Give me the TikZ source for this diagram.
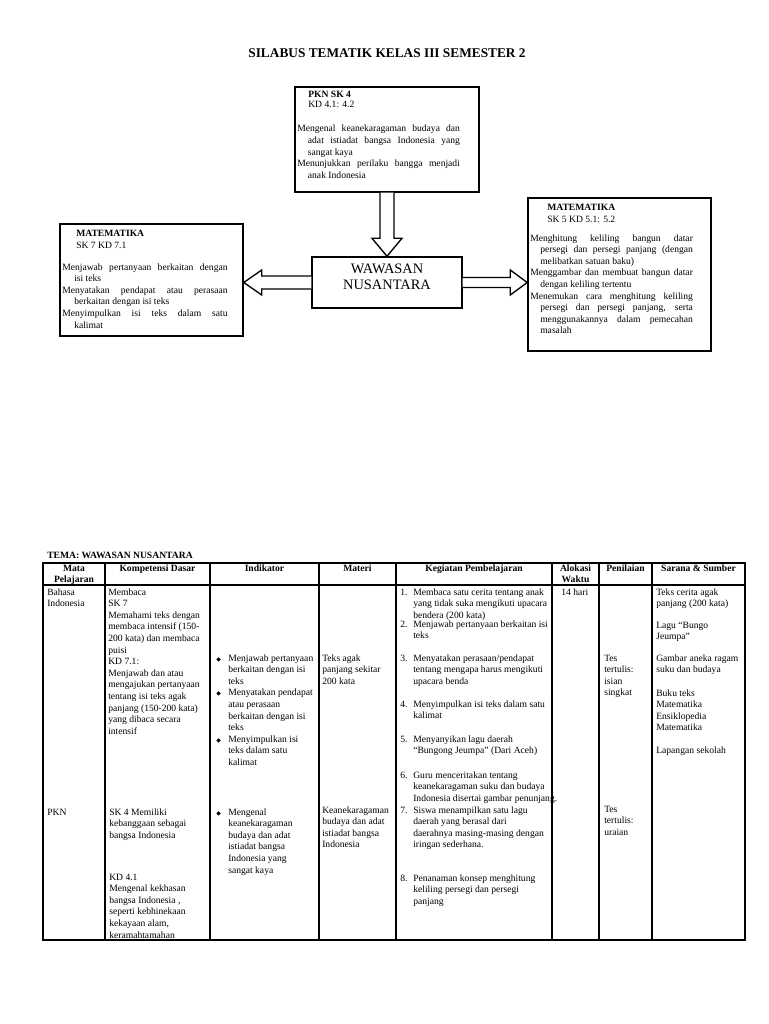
\documentclass[tikz,border=0pt]{standalone}
\usepackage{fontspec}
\setmainfont{Liberation Serif}
\newfontfamily\dejavu{DejaVu Sans}
\usetikzlibrary{calc}
\newcommand\tf{\fontsize{7.2}{8.7}\selectfont}
\newcommand\bxf{\fontsize{7.2}{8.7}\selectfont}
\newcommand\bul{\makebox[9pt][l]{\dejavu\fontsize{4.5}{5}\selectfont ◆}}
\newcommand\ind{\hspace*{9pt}}
\newcommand\num[1]{\makebox[9.75pt][l]{#1}}
\newcommand\kin{\hspace*{9.75pt}}
\newcommand\hp[1]{\par\noindent\hangindent=#1\hangafter=1\relax}
\newcommand\lines[1]{\begin{tabular}[t]{@{}l@{}}#1\end{tabular}}
\newcommand\clines[1]{\begin{tabular}[t]{@{}c@{}}#1\end{tabular}}
\newcommand\jpar[2]{\parbox[t]{#1}{\bxf #2\par}}
\begin{document}
\begin{tikzpicture}[x=0.75pt,y=-0.75pt,
  box/.style={draw, line width=1.1pt, inner sep=0pt},
  blk/.style={draw, line width=1pt, line join=miter, fill=white},
  tx/.style={anchor=base west, inner sep=0pt, font=\tf},
  hd/.style={anchor=base, inner sep=0pt, font=\tf\bfseries},
  grid/.style={line width=0.8pt}
]
\useasboundingbox (0,0) rectangle (768,1024);

% title
\node[anchor=base, inner sep=0pt, font=\fontsize{10}{12}\selectfont\bfseries] (title) at (387,58) {SILABUS TEMATIK KELAS III SEMESTER 2};

% boxes
\node[box, minimum width=138pt, minimum height=78.75pt] (pkn) at (387,139.5) {};
\node[box, minimum width=112.5pt, minimum height=38.25pt] (wn) at (387,282.5) {};
\node[box, minimum width=137.25pt, minimum height=84pt] (lm) at (151.5,280) {};
\node[box, minimum width=137.25pt, minimum height=114.75pt] (rm) at (619.5,274.5) {};

% PKN box text
\node[tx, font=\tf\bfseries] (pkn1) at (308,98) {PKN SK 4};
\node[tx] (pkn2) at (308,108) {KD 4.1: 4.2};
\node[tx] (pkn3) at (297,132) {\jpar{122pt}{\hp{8pt}Mengenal keanekaragaman budaya dan\linebreak adat istiadat bangsa Indonesia yang\linebreak sangat kaya\hp{8pt}Menunjukkan perilaku bangga menjadi\linebreak anak Indonesia}};

% left box text
\node[tx, font=\tf\bfseries] (lm1) at (76,236) {MATEMATIKA};
\node[tx] (lm2) at (76,248) {SK 7 KD 7.1};
\node[tx] (lm3) at (62,270) {\jpar{124pt}{\hp{9pt}Menjawab pertanyaan berkaitan dengan\linebreak isi teks\hp{9pt}Menyatakan pendapat atau perasaan\linebreak berkaitan dengan isi teks\hp{9pt}Menyimpulkan isi teks dalam satu\linebreak kalimat}};

% right box text
\node[tx, font=\tf\bfseries] (rm1) at (547,210) {MATEMATIKA};
\node[tx] (rm2) at (547,222) {SK 5 KD 5.1: 5.2};
\node[tx] (rm3) at (530,241) {\jpar{122pt}{\hp{7.5pt}Menghitung keliling bangun datar\linebreak persegi dan persegi panjang (dengan\linebreak melibatkan satuan baku)\hp{7.5pt}Menggambar dan membuat bangun datar\linebreak dengan keliling tertentu\hp{7.5pt}Menemukan cara menghitung keliling\linebreak persegi dan persegi panjang, serta\linebreak menggunakannya dalam pemecahan\linebreak masalah}};

% center text
\node[anchor=center, align=center, inner sep=0pt, font=\fontsize{10.8}{12}\selectfont] (wnt) at (387,277) {WAWASAN\\NUSANTARA};

% block arrows
\draw[blk] ($(pkn.south)+(-7,0)$) -- ($(wn.north)+(-7,-18)$) -- ($(wn.north)+(-15,-18)$) -- (wn.north) -- ($(wn.north)+(15,-18)$) -- ($(wn.north)+(7,-18)$) -- ($(pkn.south)+(7,0)$);
\coordinate (lt) at (lm.east |- wn.west);
\draw[blk] ($(wn.west)+(0,-6.5)$) -- ($(lt)+(18,-6.5)$) -- ($(lt)+(18,-12.5)$) -- (lt) -- ($(lt)+(18,12.5)$) -- ($(lt)+(18,6.5)$) -- ($(wn.west)+(0,6.5)$);
\coordinate (rt) at (rm.west |- wn.east);
\draw[blk] ($(wn.east)+(0,-5)$) -- ($(rt)+(-17,-5)$) -- ($(rt)+(-17,-12.5)$) -- (rt) -- ($(rt)+(-17,12.5)$) -- ($(rt)+(-17,5)$) -- ($(wn.east)+(0,5)$);

% table
\node[tx, font=\tf\bfseries] (tema) at (47,558) {TEMA: WAWASAN NUSANTARA};
\draw[grid] (43,563) rectangle (745,940);
\draw[grid] (43,585) -- (745,585);
\foreach \x in {105,210,319,396,552,599,652} \draw[grid] (\x,563) -- (\x,940);

\node[hd] (h1) at (74,571) {\clines{Mata\\Pelajaran}};
\node[hd] (h2) at (157.5,571) {Kompetensi Dasar};
\node[hd] (h3) at (264.5,571) {Indikator};
\node[hd] (h4) at (357.5,571) {Materi};
\node[hd] (h5) at (474,571) {Kegiatan Pembelajaran};
\node[hd] (h6) at (575.5,571) {\clines{Alokasi\\Waktu}};
\node[hd] (h7) at (625.5,571) {Penilaian};
\node[hd] (h8) at (698.5,571) {Sarana \& Sumber};

% row Bahasa Indonesia
\node[tx] (a1) at (47,595) {\lines{Bahasa\\Indonesia}};
\node[tx] (a2) at (108,595) {\lines{Membaca\\SK 7\\Memahami teks dengan\\membaca intensif (150-\\200 kata) dan membaca\\puisi\\KD 7.1:\\Menjawab dan atau\\mengajukan pertanyaan\\tentang isi teks agak\\panjang (150-200 kata)\\yang dibaca secara\\intensif}};
\node[tx] (a3) at (216,661) {\lines{\bul Menjawab pertanyaan\\\ind berkaitan dengan isi\\\ind teks\\\bul Menyatakan pendapat\\\ind atau perasaan\\\ind berkaitan dengan isi\\\ind teks\\\bul Menyimpulkan isi\\\ind teks dalam satu\\\ind kalimat}};
\node[tx] (a4) at (322,661) {\lines{Teks agak\\panjang sekitar\\200 kata}};
\node[tx] (k1) at (400,595) {\lines{\num{1.}Membaca satu cerita tentang anak\\\kin yang tidak suka mengikuti upacara\\\kin bendera (200 kata)}};
\node[tx] (k2) at (400,627) {\lines{\num{2.}Menjawab pertanyaan berkaitan isi\\\kin teks}};
\node[tx] (k3) at (400,661) {\lines{\num{3.}Menyatakan perasaan/pendapat\\\kin tentang mengapa harus mengikuti\\\kin upacara benda}};
\node[tx] (k4) at (400,707) {\lines{\num{4.}Menyimpulkan isi teks dalam satu\\\kin kalimat}};
\node[tx] (k5) at (400,742) {\lines{\num{5.}Menyanyikan lagu daerah\\\kin “Bungong Jeumpa” (Dari Aceh)}};
\node[tx] (k6) at (400,778) {\lines{\num{6.}Guru menceritakan tentang\\\kin keanekaragaman suku dan budaya\\\kin Indonesia disertai gambar penunjang.}};
\node[tx] (k7) at (400,813) {\lines{\num{7.}Siswa menampilkan satu lagu\\\kin daerah yang berasal dari\\\kin daerahnya masing-masing dengan\\\kin iringan sederhana.}};
\node[tx] (k8) at (400,881) {\lines{\num{8.}Penanaman konsep menghitung\\\kin keliling persegi dan persegi\\\kin panjang}};
\node[tx] (a6) at (561,595) {14 hari};
\node[tx] (a7) at (604,661) {\lines{Tes\\tertulis:\\isian\\singkat}};
\node[tx] (s1) at (656,595) {\lines{Teks cerita agak\\panjang (200 kata)}};
\node[tx] (s2) at (656,628) {\lines{Lagu “Bungo\\Jeumpa”}};
\node[tx] (s3) at (656,661) {\lines{Gambar aneka ragam\\suku dan budaya}};
\node[tx] (s4) at (656,696) {\lines{Buku teks\\Matematika\\Ensiklopedia\\Matematika}};
\node[tx] (s5) at (656,753) {Lapangan sekolah};

% row PKN
\node[tx] (b1) at (47,815) {PKN};
\node[tx] (b2) at (109,815) {\lines{SK 4 Memiliki\\kebanggaan sebagai\\bangsa Indonesia}};
\node[tx] (b2b) at (109,880) {\lines{KD 4.1\\Mengenal kekhasan\\bangsa Indonesia ,\\seperti kebhinekaan\\kekayaan alam,\\keramahtamahan}};
\node[tx] (b3) at (216,815) {\lines{\bul Mengenal\\\ind keanekaragaman\\\ind budaya dan adat\\\ind istiadat bangsa\\\ind Indonesia yang\\\ind sangat kaya}};
\node[tx] (b4) at (322,813) {\lines{Keanekaragaman\\budaya dan adat\\istiadat bangsa\\Indonesia}};
\node[tx] (b7) at (604,812) {\lines{Tes\\tertulis:\\uraian}};
\end{tikzpicture}
\end{document}
